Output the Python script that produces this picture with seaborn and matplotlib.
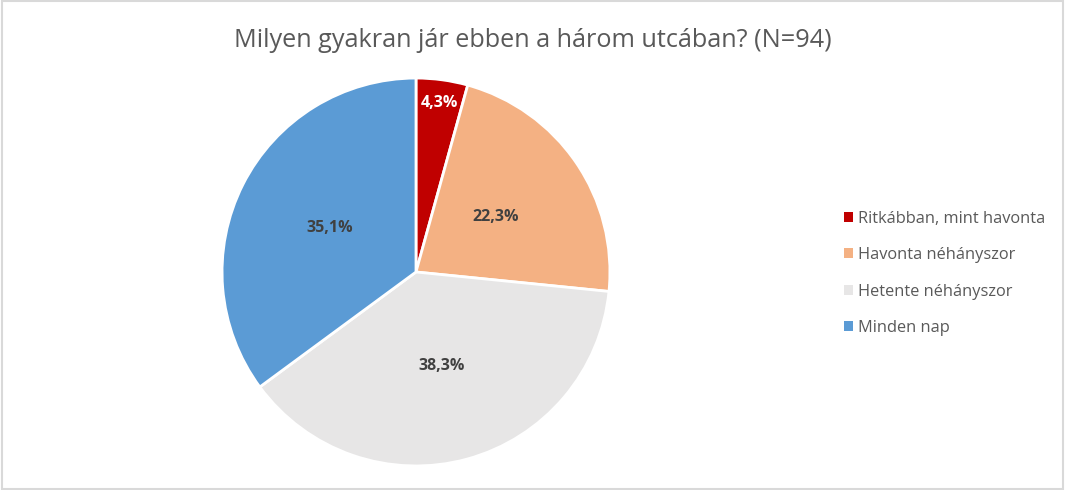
import numpy as np
import matplotlib
matplotlib.use("Agg")
import matplotlib.pyplot as plt
import seaborn as sns
from matplotlib.patches import Rectangle

categories = [
    "Ritkábban, mint havonta",
    "Havonta néhányszor",
    "Hetente néhányszor",
    "Minden nap",
]
shares = [4.3, 22.3, 38.3, 35.1]
colors = ["#C00000", "#F4B183", "#E7E6E6", "#5B9BD5"]
label_colors = ["white", "#404040", "#404040", "#404040"]
title = "Milyen gyakran jár ebben a három utcában? (N=94)"

sns.set_theme(style="white")
plt.rcParams["font.family"] = ["Open Sans", "DejaVu Sans"]

fig = plt.figure(figsize=(10.65, 4.9), dpi=100)
ax = fig.add_axes([0.2094, 0.051, 0.3624, 0.7878])

wedges, _ = ax.pie(
    shares,
    colors=colors,
    startangle=90,
    counterclock=False,
    wedgeprops=dict(edgecolor="white", linewidth=2),
)
ax.set_xlim(-0.995, 0.995)
ax.set_ylim(-0.995, 0.995)
ax.set_aspect("equal")

# percent labels, small slice pushed outward (like Excel best fit)
for w, val, lc in zip(wedges, shares, label_colors):
    theta = np.deg2rad((w.theta1 + w.theta2) / 2)
    r = 0.88 if val < 10 else 0.5
    ax.text(
        r * np.cos(theta), r * np.sin(theta),
        f"{val:.1f}%".replace(".", ","),
        ha="center", va="center", fontsize=11.5, fontweight="bold", color=lc,
    )

fig.text(0.5, 0.918, title, ha="center", va="center", fontsize=18.2, color="#595959")

leg = fig.legend(
    wedges, categories,
    loc="center left",
    bbox_to_anchor=(0.779, 0.442),
    frameon=False,
    fontsize=11.8,
    handlelength=0.55,
    handleheight=0.55,
    handletextpad=0.3,
    labelspacing=1.25,
    labelcolor="#595959",
)
for h in leg.legend_handles:
    h.set_edgecolor("none")

fig.patches.append(Rectangle((0.002, 0.002), 0.996, 0.996, transform=fig.transFigure,
                             fill=False, edgecolor="#D9D9D9", linewidth=1.5))

fig.savefig("out.png", dpi=100)
